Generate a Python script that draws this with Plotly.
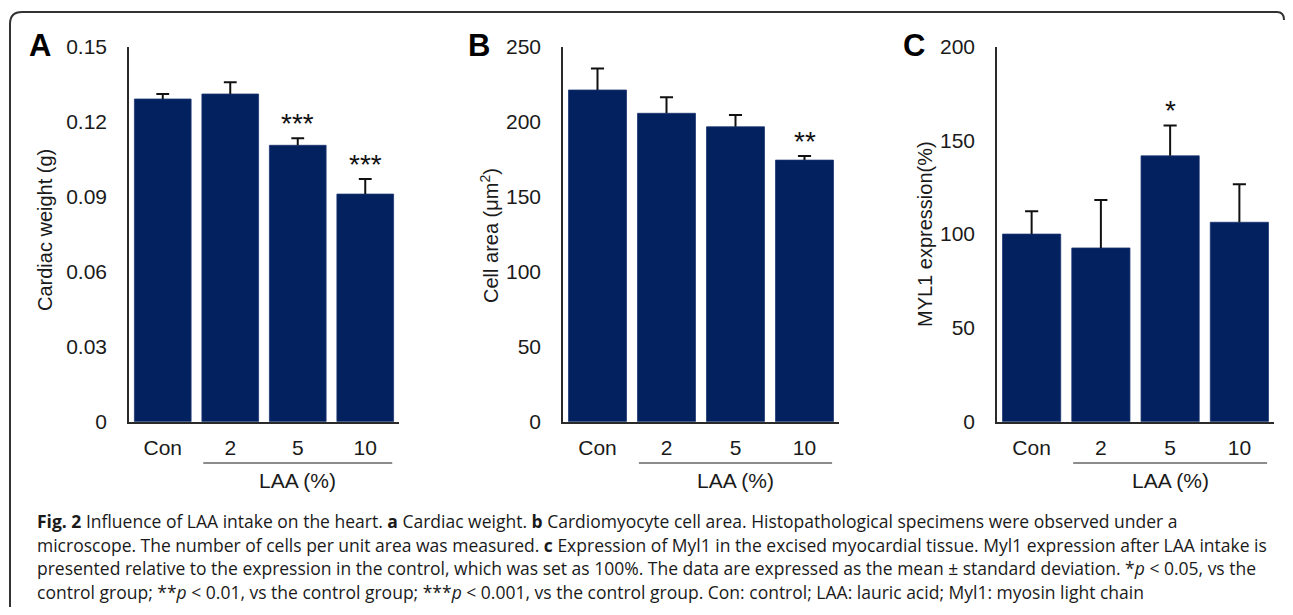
import plotly.graph_objects as go

# page is 1293x615; the browser body keeps an 8px margin, so the figure is 16px smaller
PAGE_W, PAGE_H, OFF = 1293, 615, 8
W, H = PAGE_W - 2 * OFF, PAGE_H - 2 * OFF

categories = ["Con", "2", "5", "10"]

# Panel A: cardiac weight (g)
weight_mean = [0.129, 0.131, 0.1105, 0.091]
weight_sd = [0.002, 0.0047, 0.0028, 0.006]
weight_sig = ["", "", "***", "***"]
weight_ticks = [0, 0.03, 0.06, 0.09, 0.12, 0.15]
weight_ticktext = ["0", "0.03", "0.06", "0.09", "0.12", "0.15"]

# Panel B: cell area (um^2)
area_mean = [221, 205.5, 196.5, 174.3]
area_sd = [14.3, 10.7, 7.8, 2.8]
area_sig = ["", "", "", "**"]
area_ticks = [0, 50, 100, 150, 200, 250]

# Panel C: MYL1 expression (%)
myl1_mean = [100, 92.6, 141.7, 106.3]
myl1_sd = [12.2, 25.6, 16.2, 20.3]
myl1_sig = ["", "", "*", ""]
myl1_ticks = [0, 50, 100, 150, 200]

panel_letters = ["A", "B", "C"]
y_titles = ["Cardiac weight (g)", "Cell area (μm<sup>2</sup>)", "MYL1 expression(%)"]
group_label = "LAA (%)"

caption_lines = [
    "<b>Fig. 2</b> Influence of LAA intake on the heart. <b>a</b> Cardiac weight. <b>b</b> Cardiomyocyte cell area. Histopathological specimens were observed under a",
    "microscope. The number of cells per unit area was measured. <b>c</b> Expression of Myl1 in the excised myocardial tissue. Myl1 expression after LAA intake is",
    "presented relative to the expression in the control, which was set as 100%. The data are expressed as the mean ± standard deviation. *<i>p</i> &lt; 0.05, vs the",
    "control group; **<i>p</i> &lt; 0.01, vs the control group; ***<i>p</i> &lt; 0.001, vs the control group. Con: control; LAA: lauric acid; Myl1: myosin light chain",
]

BAR = "#03205F"
AX = "#2a2a2a"
TXT = "#1a1a1a"
FONT = "Liberation Sans, Arial, sans-serif"

def px(x):
    return (x - OFF) / W

def py(y):
    return 1 - (y - OFF) / H

panels = [
    dict(means=weight_mean, sd=weight_sd, sig=weight_sig, tv=weight_ticks, tt=weight_ticktext,
         rng=[0, 0.15], xd=[129, 399], letter_x=40, title_x=45, title_y=230),
    dict(means=area_mean, sd=area_sd, sig=area_sig, tv=area_ticks, tt=[str(v) for v in area_ticks],
         rng=[0, 250], xd=[563, 839], letter_x=479, title_x=489, title_y=236),
    dict(means=myl1_mean, sd=myl1_sd, sig=myl1_sig, tv=myl1_ticks, tt=[str(v) for v in myl1_ticks],
         rng=[0, 200], xd=[997, 1274], letter_x=914, title_x=925, title_y=234),
]

xpos = list(range(len(categories)))
CAP = 0.095  # half cap width, in category units

fig = go.Figure()
annotations = []
shapes = []
layout_axes = {}

for i, p in enumerate(panels):
    n = "" if i == 0 else str(i + 1)
    xa, ya = "x" + n, "y" + n
    fig.add_trace(go.Bar(
        x=xpos, y=p["means"], xaxis=xa, yaxis=ya, width=0.84,
        marker=dict(color=BAR, line=dict(color="#1b3672", width=0.8)),
        hoverinfo="skip",
    ))
    # upper error bars (stem + cap) built from the data
    ex, ey = [], []
    for xi, m, s in zip(xpos, p["means"], p["sd"]):
        ex += [xi, xi, None, xi - CAP, xi + CAP, None]
        ey += [m, m + s, None, m + s, m + s, None]
    fig.add_trace(go.Scatter(x=ex, y=ey, xaxis=xa, yaxis=ya, mode="lines",
                             line=dict(color="#111111", width=2), hoverinfo="skip"))
    layout_axes["xaxis" + n] = dict(
        domain=[px(p["xd"][0]), px(p["xd"][1])], anchor=ya, range=[-0.5, 3.5],
        tickvals=xpos, ticktext=categories, automargin=False,
        showline=True, linecolor=AX, linewidth=1.5, ticks="", showgrid=False, zeroline=False,
        tickfont=dict(family=FONT, size=21, color=TXT), ticklabelstandoff=6,
        fixedrange=True,
    )
    layout_axes["yaxis" + n] = dict(
        domain=[py(421.7), py(46.5)], anchor=xa, range=p["rng"], automargin=False,
        showline=True, linecolor=AX, linewidth=1.5, ticks="", showgrid=False, zeroline=False,
        tickvals=p["tv"], ticktext=p["tt"],
        tickfont=dict(family=FONT, size=21, color=TXT), ticklabelstandoff=16,
        fixedrange=True,
    )
    # significance marks
    for xi, m, s, g in zip(xpos, p["means"], p["sd"], p["sig"]):
        if g:
            annotations.append(dict(x=xi, y=m + s, xref=xa, yref=ya, text=g, showarrow=False,
                                    xanchor="center", yanchor="bottom", yshift=-3,
                                    font=dict(family=FONT, size=28, color="#111111")))
    # panel letter
    annotations.append(dict(x=px(p["letter_x"]), y=py(46), xref="paper", yref="paper",
                            text="<b>%s</b>" % panel_letters[i], showarrow=False,
                            xanchor="center", yanchor="middle",
                            font=dict(family=FONT, size=31, color="#000000")))
    # y title
    annotations.append(dict(x=px(p["title_x"]), y=py(p["title_y"]), xref="paper", yref="paper",
                            text=y_titles[i], showarrow=False, textangle=-90,
                            xanchor="center", yanchor="middle",
                            font=dict(family=FONT, size=20, color=TXT)))
    # group underline under LAA doses
    shapes.append(dict(type="line", xref=xa, yref="paper", x0=0.6, x1=3.4,
                       y0=py(463), y1=py(463), line=dict(color=TXT, width=1.2)))
    annotations.append(dict(x=2, y=py(480), xref=xa, yref="paper", text=group_label,
                            showarrow=False, xanchor="center", yanchor="middle",
                            font=dict(family=FONT, size=21, color=TXT)))

# caption
for k, line in enumerate(caption_lines):
    annotations.append(dict(x=px(35), y=py(521 + 23.5 * k), xref="paper", yref="paper",
                            text=line, showarrow=False, xanchor="left", yanchor="middle",
                            font=dict(family="Open Sans, Lato, sans-serif", size=17.5, color=TXT)))

# rounded frame (left edge, top edge, start of the right corner); kept inside the figure
def P(x, y):
    return "%.5f,%.5f" % (px(x), py(y))

frame = ("M " + P(10, 607) + " L " + P(10, 24) + " Q " + P(10, 12) + " " + P(22, 12) +
         " L " + P(1277, 12) + " Q " + P(1284, 12) + " " + P(1284, 20))
shapes.append(dict(type="path", xref="paper", yref="paper", path=frame,
                   line=dict(color="#333333", width=2)))

fig.update_layout(
    width=W, height=H, margin=dict(l=0, r=0, t=0, b=0, pad=0, autoexpand=False),
    paper_bgcolor="white", plot_bgcolor="white", showlegend=False,
    annotations=annotations, shapes=shapes,
    **layout_axes,
)

fig.write_html("out.html", config={"displayModeBar": False})
